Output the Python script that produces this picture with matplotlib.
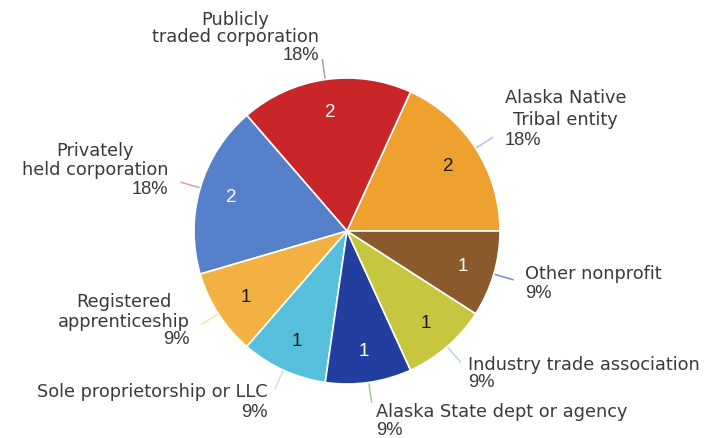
import numpy as np
import matplotlib
matplotlib.use("Agg")
import matplotlib.pyplot as plt

# ---- data ----
categories = ["Alaska Native\nTribal entity", "Publicly\ntraded corporation",
              "Privately\nheld corporation", "Registered\napprenticeship",
              "Sole proprietorship or LLC", "Alaska State dept or agency",
              "Industry trade association", "Other nonprofit"]
counts = [2, 2, 2, 1, 1, 1, 1, 1]

# ---- styles ----
colors = ["#EFA12F", "#C9262A", "#5680C9", "#F4B143", "#56BFDB",
          "#223FA0", "#C7C73F", "#8A5A2C"]
count_colors = ["#1a1a1a", "white", "white", "#1a1a1a", "#1a1a1a",
                "white", "#1a1a1a", "white"]
leader_colors = ["#c9b6dc", "#9aa6b8", "#e89a9a", "#eee7a8", "#dddddd",
                 "#a8d08a", "#b8d6ea", "#6f8fc8"]
# label layout in pixel coords: anchor x, name-line baselines, pct baseline, block alignment
label_x = [505, 319, 168, 190, 268, 376, 468, 525]
name_baselines = [[103, 125], [25, 42], [156, 175], [307, 327], [397], [417], [370], [279]]
pct_baselines = [145, 60, 194, 344, 417, 435, 387, 298]
label_align = ["left", "right", "right", "right", "right", "left", "left", "left"]

W, H = 716, 439
cx, cy, R = 347, 232, 153

fig = plt.figure(figsize=(W / 100, H / 100), dpi=100)
ax = fig.add_axes([0, 0, 1, 1])

total = sum(counts)
wedges, _, autotexts = ax.pie(
    counts, colors=colors, startangle=0, counterclock=True,
    center=(cx, H - cy), radius=R, frame=True,
    autopct=lambda p: f"{round(p * total / 100)}", pctdistance=0.79,
    wedgeprops=dict(edgecolor="white", linewidth=1.2),
    textprops=dict(fontsize=13.5, family="Liberation Sans"))
ax.set_xlim(0, W)
ax.set_ylim(0, H)
ax.axis("off")
for t, c in zip(autotexts, count_colors):
    t.set_color(c)

name_font = dict(family="DejaVu Sans", fontsize=12.8, color="#3a3a3a")
pct_font = dict(family="Liberation Sans", fontsize=13.2, color="#3a3a3a")

fig.canvas.draw()
renderer = fig.canvas.get_renderer()

for i, (w, cat, n) in enumerate(zip(wedges, categories, counts)):
    mid = np.deg2rad((w.theta1 + w.theta2) / 2)
    x0 = cx + R * np.cos(mid)
    y0 = (H - cy) + R * np.sin(mid)
    x1 = cx + R * 1.13 * np.cos(mid)
    y1 = (H - cy) + R * 1.13 * np.sin(mid)
    ax.plot([x0, x1], [y0, y1], color=leader_colors[i], lw=1.1, zorder=0)

    lx = label_x[i]
    ha = label_align[i]
    lines = cat.split("\n")
    bls = name_baselines[i]
    pct = f"{round(100 * n / total)}%"
    # widest line is anchored; others centred on it
    widest = max(range(len(lines)), key=lambda k: len(lines[k]))
    ref = ax.text(lx, H - bls[widest], lines[widest], ha=ha, va="baseline", **name_font)
    bb = ref.get_window_extent(renderer)
    xc = (bb.x0 + bb.x1) / 2
    for k, ln in enumerate(lines):
        if k != widest:
            ax.text(xc, H - bls[k], ln, ha="center", va="baseline", **name_font)
    ax.text(lx, H - pct_baselines[i], pct, ha=ha, va="baseline", **pct_font)

fig.savefig("out.png", dpi=100, facecolor="white")
